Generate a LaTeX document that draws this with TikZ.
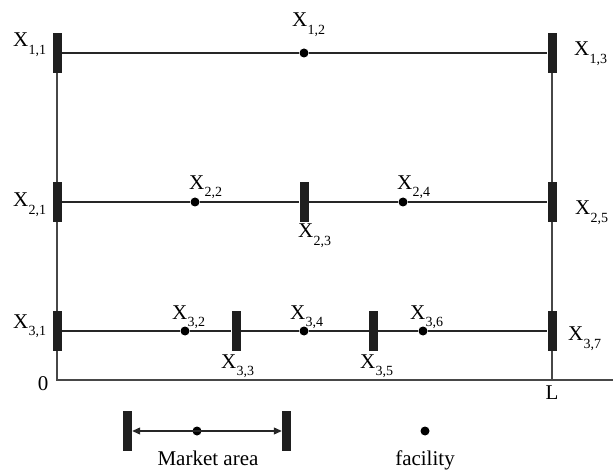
\documentclass[tikz,border=0pt]{standalone}
\usepackage{fontspec}
\setmainfont{Liberation Serif}
\usetikzlibrary{arrows.meta}
\newcommand{\xlab}[1]{X\kern0.3pt\raisebox{-7.5pt}{\fontsize{14}{14}\selectfont #1}}
\begin{document}
\begin{tikzpicture}[x=1pt,y=-1pt,
  bar/.style={rectangle,fill=black!88,draw=none,minimum width=9pt,minimum height=40pt,inner sep=0pt},
  dot/.style={circle,fill=black,draw=none,minimum size=9pt,inner sep=0pt},
  lab/.style={anchor=base west,inner sep=0pt,font=\fontsize{21}{21}\selectfont},
  txt/.style={anchor=base,inner sep=0pt,font=\fontsize{21}{21}\selectfont},
  hline/.style={line width=1.1pt,black!85},
  vline/.style={line width=1.1pt,black!72}]
\useasboundingbox (0,0) rectangle (613,470);
% row 1
\node[bar] (b11) at (57,53) {};
\node[dot] (d12) at (304,53) {};
\node[bar] (b13) at (552,53) {};
% row 2
\node[bar] (b21) at (57,202) {};
\node[dot] (d22) at (195,202) {};
\node[bar] (b23) at (304,202) {};
\node[dot] (d24) at (403,202) {};
\node[bar] (b25) at (552,202) {};
% row 3
\node[bar] (b31) at (57,331) {};
\node[dot] (d32) at (185,331) {};
\node[bar] (b33) at (236,331) {};
\node[dot] (d34) at (304,331) {};
\node[bar] (b35) at (373.5,331) {};
\node[dot] (d36) at (423,331) {};
\node[bar] (b37) at (552,331) {};
% axis coordinates
\coordinate (o) at (57,380);
\coordinate (l) at (552,380);
\coordinate (e) at (613,380);
% lines
\draw[hline] (b11) -- (d12) -- (b13);
\draw[hline] (b21) -- (d22) -- (b23) -- (d24) -- (b25);
\draw[hline] (b31) -- (d32) -- (b33) -- (d34) -- (b35) -- (d36) -- (b37);
\draw[vline] (b11.south) -- (b21.north) (b21.south) -- (b31.north) (b31.south) -- (o) -- (e);
\draw[vline] (b13.south) -- (b25.north) (b25.south) -- (b37.north) (b37.south) -- (l);
% labels
\node[lab] (t11) at (13,46.7) {\xlab{1,1}};
\node[lab] (t12) at (292,27) {\xlab{1,2}};
\node[lab] (t13) at (574,56) {\xlab{1,3}};
\node[lab] (t21) at (13,206.7) {\xlab{2,1}};
\node[lab] (t22) at (189,189.3) {\xlab{2,2}};
\node[lab] (t23) at (298,238) {\xlab{2,3}};
\node[lab] (t24) at (397,189.3) {\xlab{2,4}};
\node[lab] (t25) at (575,215) {\xlab{2,5}};
\node[lab] (t31) at (13,328.3) {\xlab{3,1}};
\node[lab] (t32) at (172,319.3) {\xlab{3,2}};
\node[lab] (t33) at (221,368) {\xlab{3,3}};
\node[lab] (t34) at (290,319.3) {\xlab{3,4}};
\node[lab] (t35) at (360,368) {\xlab{3,5}};
\node[lab] (t36) at (410,319.3) {\xlab{3,6}};
\node[lab] (t37) at (568,341) {\xlab{3,7}};
\node[txt] (zero) at (43,390) {0};
\node[txt] (ll) at (552,399) {L};
% legend
\node[bar] (lb1) at (127.5,431) {};
\node[dot] (ld) at (197,431) {};
\node[bar] (lb2) at (286.5,431) {};
\draw[hline,{Triangle[length=8pt,width=7pt]}-{Triangle[length=8pt,width=7pt]}] (lb1) -- (lb2);
\node[dot] (fd) at (425,431) {};
\node[txt] (ma) at (208,465) {Market area};
\node[txt] (fa) at (425,465) {facility};
\end{tikzpicture}
\end{document}
